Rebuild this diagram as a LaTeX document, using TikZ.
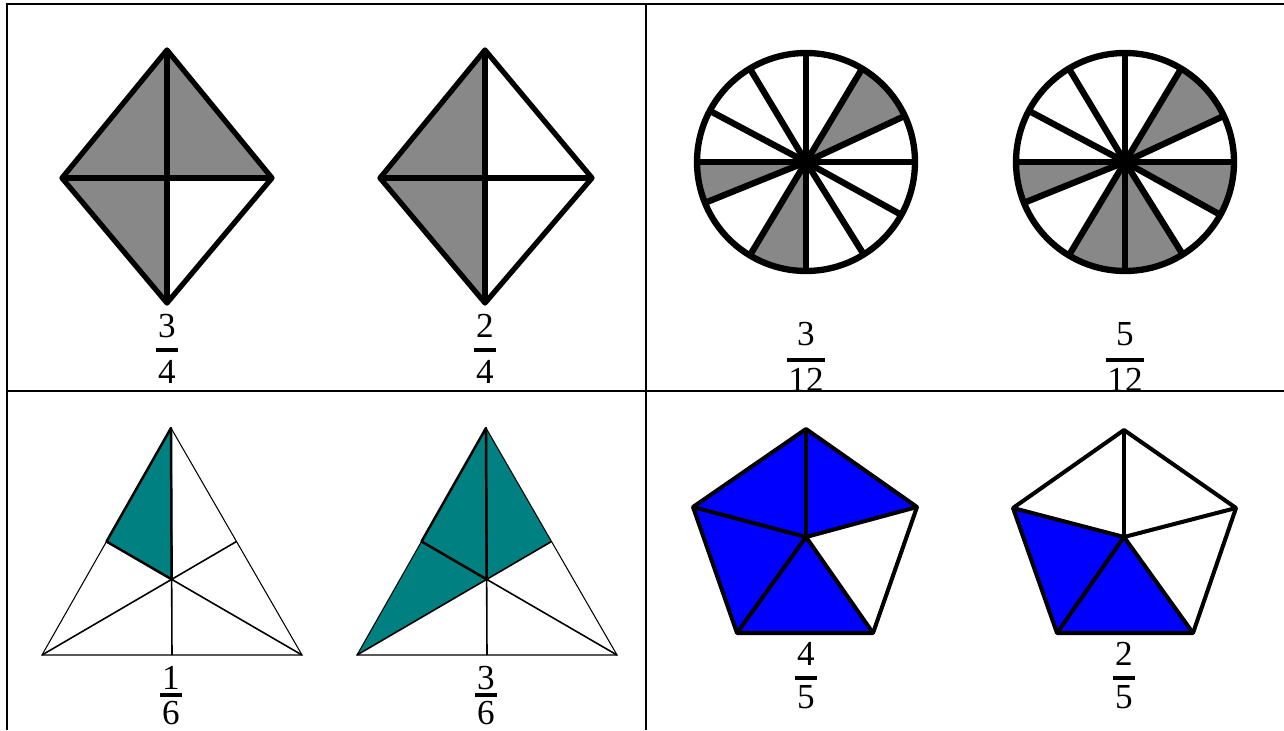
\documentclass[tikz,border=0pt]{standalone}
\usepackage{fontspec}
\setmainfont{Liberation Serif}
\usetikzlibrary{positioning,calc}
\definecolor{shadegray}{RGB}{136,136,136}
\definecolor{tealfill}{RGB}{0,128,128}
\definecolor{pentblue}{RGB}{0,0,255}

\tikzset{
  digit/.style={inner sep=0pt, font=\fontsize{20}{24}\selectfont},
  fracbar/.style={fill=black, inner xsep=1pt, inner ysep=0pt, minimum height=2pt,
    font=\fontsize{20}{24}\selectfont},
  grid line/.style={line width=1.1pt},
  kite/.style={line width=3pt, line join=round},
  wheel/.style={line width=3.6pt},
  thin tri/.style={line width=0.6pt},
  mid tri/.style={line width=0.9pt},
  thick tri/.style={line width=1.4pt, line join=round},
  penta/.style={line width=2.3pt, line join=round},
}

% fraction: name, bar position, numerator, denominator, gap above, gap below
\newcommand\fracpic[6]{%
  \node[fracbar] (#1bar) at (#2) {\hphantom{#4}};
  \node[digit, above=#5 of #1bar] (#1num) {#3};
  \node[digit, below=#6 of #1bar] (#1den) {#4};
}

\begin{document}
\begin{tikzpicture}[x=0.02cm, y=-0.02cm]
  \useasboundingbox (0,0) rectangle (1284,730);

  % ---- top left: diamonds ----
  \coordinate (k1t) at (167,50);  \coordinate (k1l) at (62,178);
  \coordinate (k1r) at (272,178); \coordinate (k1b) at (167,303);
  \coordinate (k1c) at (167,178);
  \fill[shadegray] (k1c) -- (k1l) -- (k1t) -- (k1r) -- cycle;
  \fill[shadegray] (k1c) -- (k1l) -- (k1b) -- cycle;
  \draw[kite] (k1t) -- (k1r) -- (k1b) -- (k1l) -- cycle;
  \draw[kite] (k1t) -- (k1b) (k1l) -- (k1r);

  \coordinate (k2t) at (485,50);  \coordinate (k2l) at (380,178);
  \coordinate (k2r) at (592,178); \coordinate (k2b) at (485,303);
  \coordinate (k2c) at (485,178);
  \fill[shadegray] (k2t) -- (k2l) -- (k2b) -- cycle;
  \draw[kite] (k2t) -- (k2r) -- (k2b) -- (k2l) -- cycle;
  \draw[kite] (k2t) -- (k2b) (k2l) -- (k2r);

  \fracpic{fa}{167,350}{3}{4}{5.5pt}{4.5pt}
  \fracpic{fb}{485,350}{2}{4}{5.5pt}{4.5pt}

  % ---- top right: wheels ----
  \begin{scope}
    \clip (646,4) rectangle (1284,391);
    \begin{scope}[shift={(806,162)}, yscale=-1]
      \foreach \s/\e in {25/59,180/202,239/270}
        \fill[shadegray] (0,0) -- (\s:109) arc[start angle=\s, end angle=\e, radius=109] -- cycle;
      \foreach \a in {0,25,59,90,121,152,180,202,239,270,302,331}
        \draw[wheel] (0,0) -- (\a:109);
      \draw[wheel] (0,0) circle (109);
      \fill (0,0) circle (9);
    \end{scope}
    \begin{scope}[shift={(1125,162)}, yscale=-1]
      \foreach \s/\e in {25/59,180/202,239/270,270/302,331/360}
        \fill[shadegray] (0,0) -- (\s:109) arc[start angle=\s, end angle=\e, radius=109] -- cycle;
      \foreach \a in {0,25,59,90,121,152,180,202,239,270,302,331}
        \draw[wheel] (0,0) -- (\a:109);
      \draw[wheel] (0,0) circle (109);
      \fill (0,0) circle (9);
    \end{scope}
    \fracpic{fc}{806,360}{3}{12}{6.5pt}{3.2pt}
    \fracpic{fd}{1125,360}{5}{12}{6.5pt}{3.2pt}
  \end{scope}

  % ---- bottom left: triangles ----
  \coordinate (t1a) at (171,428); \coordinate (t1l) at (42,655); \coordinate (t1r) at (302,655);
  \coordinate (t1ml) at ($(t1a)!0.5!(t1l)$);
  \coordinate (t1mr) at ($(t1a)!0.5!(t1r)$);
  \coordinate (t1mb) at ($(t1l)!0.5!(t1r)$);
  \coordinate (t1g) at ($(t1a)!2/3!(t1mb)$);
  \fill[tealfill] (t1a) -- (t1ml) -- (t1g) -- cycle;
  \draw[thin tri] (t1a) -- (t1r) -- (t1l) -- cycle;
  \draw[mid tri] (t1a) -- (t1mb) (t1l) -- (t1mr) (t1r) -- (t1ml);
  \draw[thick tri] (t1g) -- (t1a) -- (t1ml) -- (t1g);

  \coordinate (t2a) at (486,428); \coordinate (t2l) at (357,655); \coordinate (t2r) at (617,655);
  \coordinate (t2ml) at ($(t2a)!0.5!(t2l)$);
  \coordinate (t2mr) at ($(t2a)!0.5!(t2r)$);
  \coordinate (t2mb) at ($(t2l)!0.5!(t2r)$);
  \coordinate (t2g) at ($(t2a)!2/3!(t2mb)$);
  \fill[tealfill] (t2a) -- (t2mr) -- (t2g) -- (t2l) -- cycle;
  \draw[thin tri] (t2a) -- (t2r) -- (t2l) -- cycle;
  \draw[mid tri] (t2a) -- (t2mb) (t2l) -- (t2mr) (t2r) -- (t2ml);
  \draw[thick tri] (t2g) -- (t2a) -- (t2ml) -- (t2g);

  \fracpic{fe}{171,695}{1}{6}{1.8pt}{2pt}
  \fracpic{ff}{486,695}{3}{6}{1.8pt}{2pt}

  % ---- bottom right: pentagons ----
  \coordinate (p1t) at (806,429); \coordinate (p1l) at (693,507); \coordinate (p1r) at (917,507);
  \coordinate (p1bl) at (737,633); \coordinate (p1br) at (873,633); \coordinate (p1c) at (806,537);
  \fill[pentblue] (p1c) -- (p1r) -- (p1t) -- (p1l) -- (p1bl) -- (p1br) -- cycle;
  \draw[penta] (p1t) -- (p1r) -- (p1br) -- (p1bl) -- (p1l) -- cycle;
  \foreach \v in {p1t,p1r,p1br,p1bl,p1l} \draw[penta] (p1c) -- (\v);

  \coordinate (p2t) at (1124,430); \coordinate (p2l) at (1013,508); \coordinate (p2r) at (1236,508);
  \coordinate (p2bl) at (1057,633); \coordinate (p2br) at (1193,633); \coordinate (p2c) at (1124,537);
  \fill[pentblue] (p2c) -- (p2l) -- (p2bl) -- (p2br) -- cycle;
  \draw[penta] (p2t) -- (p2r) -- (p2br) -- (p2bl) -- (p2l) -- cycle;
  \foreach \v in {p2t,p2r,p2br,p2bl,p2l} \draw[penta] (p2c) -- (\v);

  \fracpic{fg}{806,678}{4}{5}{5.5pt}{3pt}
  \fracpic{fh}{1124,678}{2}{5}{5.5pt}{3pt}

  % ---- table rules ----
  \draw[grid line] (7,730) -- (7,4) -- (1284,4);
  \draw[grid line] (7,391) -- (1284,391);
  \draw[grid line] (646,4) -- (646,730);
\end{tikzpicture}
\end{document}
